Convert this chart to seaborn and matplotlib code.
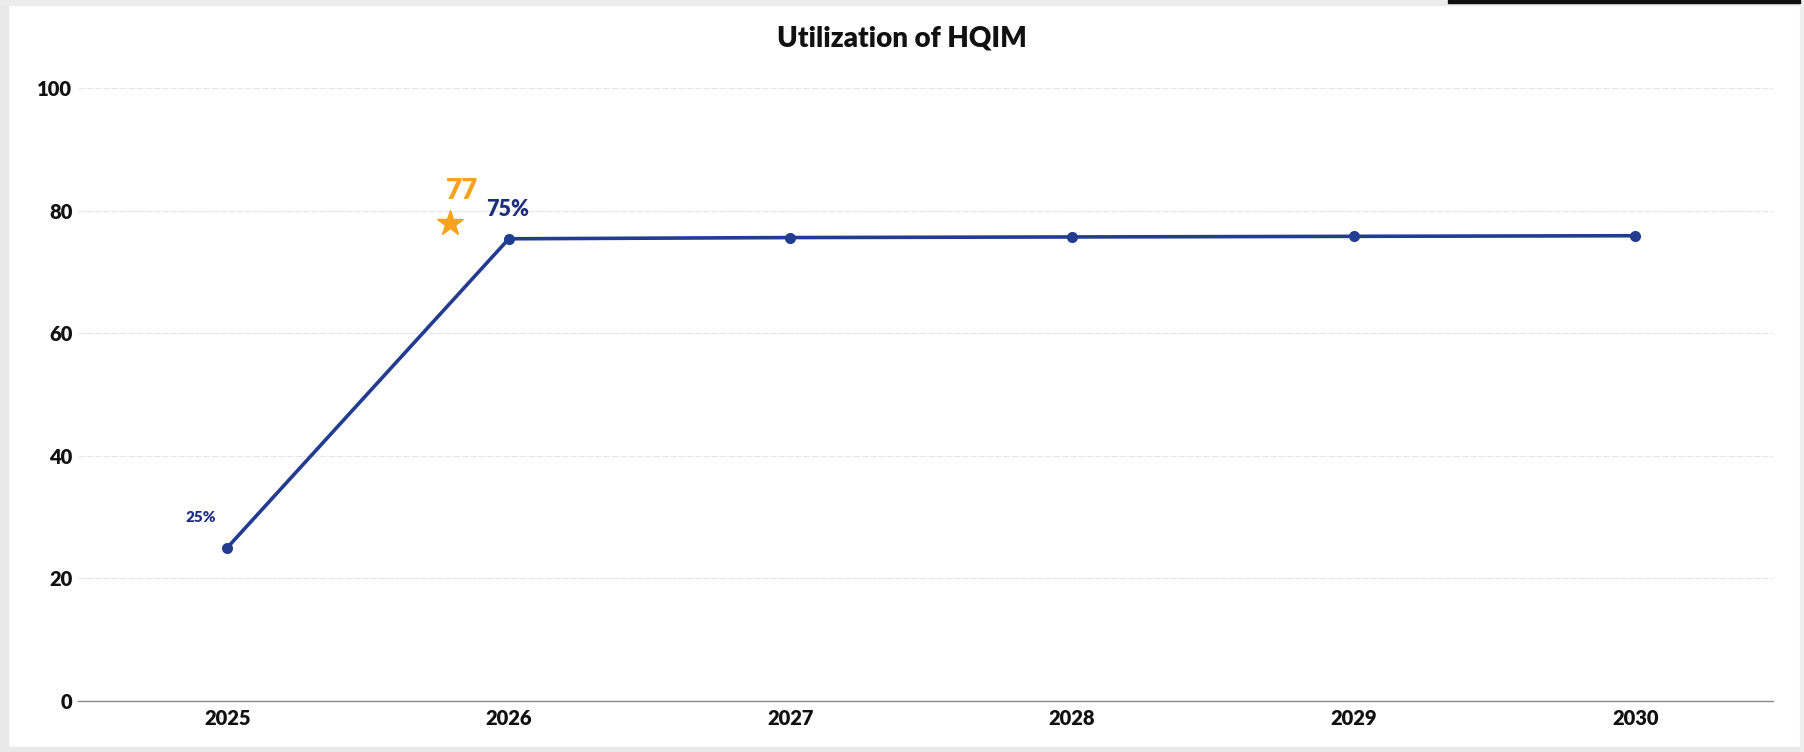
import matplotlib
matplotlib.use("Agg")
import matplotlib.pyplot as plt
import seaborn as sns
import pandas as pd
from matplotlib.patches import Rectangle

# ---- data ----
years = [2025, 2026, 2027, 2028, 2029, 2030]
utilization = [25, 75.4, 75.6, 75.7, 75.8, 75.9]
point_labels = ["25%", "75%", "", "", "", ""]
target_x = [2025.79]
target_y = [78]
target_label = "77"
y_ticks = [0, 20, 40, 60, 80, 100]

sns.set_theme(style="white")
plt.rcParams["font.family"] = ["Lato", "DejaVu Sans"]

NAVY = "#223c90"
LABEL_NAVY = "#1c2f7c"
ORANGE = "#f6a21e"
W8 = "heavy"

fig = plt.figure(figsize=(18.04, 7.52), dpi=100)
fig.patch.set_facecolor("white")
ax = fig.add_axes([0.0432, 0.0678, 0.9398, 0.8152])

df = pd.DataFrame({"year": years, "value": utilization})
sns.lineplot(data=df, x="year", y="value", ax=ax, color=NAVY, linewidth=2.6,
             marker="o", markersize=8, markeredgewidth=0, markerfacecolor=NAVY)

# target star
ax.plot(target_x, target_y, marker="*", markersize=19, color=ORANGE,
        linestyle="none", zorder=5)
ax.annotate(target_label, (target_x[0], target_y[0]), xytext=(9, 23),
            textcoords="offset points", ha="center", va="center",
            fontsize=20, fontweight=W8, color=ORANGE)

# point labels
ax.annotate(point_labels[0], (years[0], utilization[0]), xytext=(-19, 22),
            textcoords="offset points", ha="center", va="center",
            fontsize=11, fontweight=W8, color=LABEL_NAVY)
ax.annotate(point_labels[1], (years[1], utilization[1]), xytext=(-1, 21),
            textcoords="offset points", ha="center", va="center",
            fontsize=15.5, fontweight=W8, color=LABEL_NAVY)

ax.set_xlim(2024.47, 2030.49)
ax.set_ylim(0, 100)
ax.set_xticks(years)
ax.set_xticklabels([str(y) for y in years])
ax.set_yticks(y_ticks)
ax.set_yticklabels([str(t) for t in y_ticks])
ax.set_xlabel("")
ax.set_ylabel("")
ax.tick_params(axis="both", length=0, labelsize=14.5, colors="#111111")
ax.tick_params(axis="x", pad=6)
ax.tick_params(axis="y", pad=4)
for lbl in ax.get_xticklabels() + ax.get_yticklabels():
    lbl.set_fontweight(W8)

ax.yaxis.grid(True, color="#e6e6e6", linewidth=0.8, linestyle=(0, (6, 1.5)))
ax.xaxis.grid(False)
for s in ["top", "right", "left"]:
    ax.spines[s].set_visible(False)
ax.spines["bottom"].set_color("#8a8a8a")
ax.spines["bottom"].set_linewidth(1.0)
ax.set_axisbelow(True)

fig.text(0.5, 1 - 38 / 752, "Utilization of HQIM", ha="center", va="center",
         fontsize=20, fontweight=W8, color="#111111")

# scan border decoration
W, H = 1804, 752
def rect(x0, y0, w, h, c):
    fig.patches.append(Rectangle((x0 / W, 1 - (y0 + h) / H), w / W, h / H,
                                 transform=fig.transFigure, color=c, zorder=0))
rect(0, 0, 8, H, "#e9e9e9")
rect(0, 0, W, 5, "#ececec")
rect(0, H - 5, W, 5, "#e9e9e9")
rect(W - 4, 0, 4, H, "#eeeeee")
rect(1448, 0, 352, 3, "#111111")

fig.savefig("out.png", dpi=100, facecolor=fig.get_facecolor())
